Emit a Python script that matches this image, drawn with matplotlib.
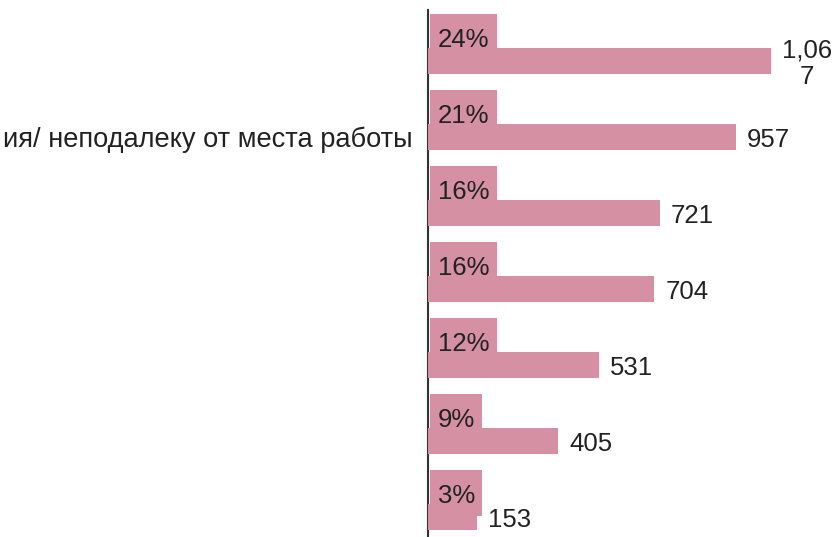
import matplotlib.pyplot as plt
from matplotlib.path import Path

plt.rcParams['font.family'] = ['Liberation Sans', 'DejaVu Sans']

# answers, counts and shares
categories = ['', 'ия/ неподалеку от места работы', '', '', '', '', '']
counts = [1067, 957, 721, 704, 531, 405, 153]
shares = ['24%', '21%', '16%', '16%', '12%', '9%', '3%']

bar_color = '#d591a3'
text_color = '#222222'
fs = 18.5


def count_label(v):
    s = f'{v:,}'
    # long numbers wrap onto a second line
    if len(s) > 4:
        s = s[:4] + '\n' + s[4:]
    return s


def tall_box(x0, y0, width, height, mutation_size):
    # square box with extra room above the text
    px = 0.29 * mutation_size
    top = 0.56 * mutation_size
    bottom = 0.29 * mutation_size
    x1, y1 = x0 - px, y0 - bottom
    x2, y2 = x0 + width + px, y0 + height + top
    return Path([(x1, y1), (x2, y1), (x2, y2), (x1, y2), (x1, y1)], closed=True)


fig = plt.figure(figsize=(8.35, 5.37), dpi=100)
ax = fig.add_axes([428 / 835, 0, 407 / 835, 527 / 537])

rows = list(range(len(counts)))
ax.barh(rows, counts, height=0.33, color=bar_color, zorder=3)

for i in rows:
    ax.annotate(shares[i], xy=(0, i), xytext=(7, 10), textcoords='offset points',
                ha='left', va='baseline', fontsize=fs, color=text_color, zorder=2,
                bbox=dict(boxstyle=tall_box, fc=bar_color, ec='none'))
    ax.annotate(count_label(counts[i]), xy=(counts[i], i), xytext=(8, -2),
                textcoords='offset points', ha='left', va='center',
                multialignment='center', linespacing=1.1,
                fontsize=fs, color=text_color, zorder=4)

ax.set_xlim(0, 1266)
ax.set_ylim(6.263, -0.671)
ax.set_xticks([])
ax.set_yticks(rows)
ax.set_yticklabels(categories, fontsize=19.6, color=text_color)
ax.tick_params(axis='y', length=0, pad=11)

for side in ['top', 'right', 'bottom']:
    ax.spines[side].set_visible(False)
ax.spines['left'].set_color('#333333')
ax.spines['left'].set_linewidth(1.5)
ax.set_facecolor('none')

fig.savefig('out.png', dpi=100)
